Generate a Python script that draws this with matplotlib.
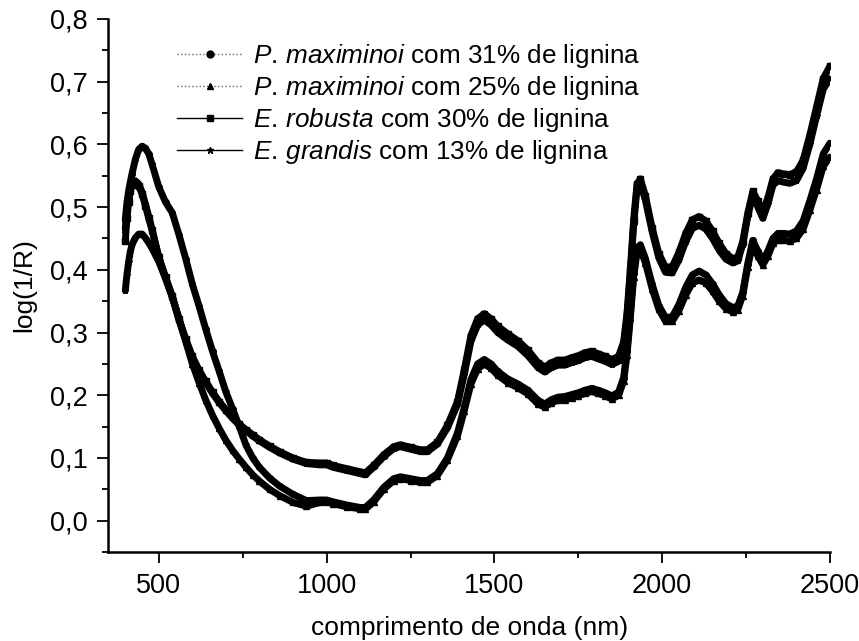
import matplotlib
matplotlib.use('Agg')
import matplotlib.pyplot as plt
from matplotlib.lines import Line2D
from matplotlib.ticker import FuncFormatter, MultipleLocator

plt.rcParams['font.family'] = ['Liberation Sans', 'DejaVu Sans']
plt.rcParams['mathtext.fontset'] = 'custom'
plt.rcParams['mathtext.rm'] = 'Liberation Sans'
plt.rcParams['mathtext.it'] = 'Liberation Sans:italic'

# comprimento de onda (nm)
comprimento = [400, 405, 410, 415, 420, 430, 440, 450, 460, 470, 480, 500, 520, 540,
               560, 580, 600, 620, 640, 660, 680, 700, 720, 740, 760, 780, 800, 830,
               860, 900, 940, 980, 1000, 1020, 1060, 1100, 1115, 1140, 1170, 1200,
               1220, 1250, 1280, 1300, 1330, 1360, 1390, 1410, 1430, 1450, 1470, 1490,
               1510, 1540, 1570, 1600, 1630, 1650, 1670, 1690, 1710, 1730, 1750, 1770,
               1790, 1810, 1830, 1850, 1870, 1885, 1895, 1905, 1915, 1925, 1935, 1950,
               1970, 1990, 2010, 2030, 2050, 2070, 2090, 2110, 2130, 2150, 2170, 2190,
               2210, 2225, 2240, 2255, 2270, 2285, 2300, 2315, 2330, 2345, 2360, 2380,
               2400, 2420, 2440, 2460, 2480, 2500]

# log(1/R)
pm31 = [0.480, 0.507, 0.526, 0.540, 0.553, 0.576, 0.592, 0.597, 0.594, 0.585, 0.568,
        0.532, 0.508, 0.491, 0.456, 0.418, 0.377, 0.342, 0.305, 0.270, 0.238, 0.205,
        0.178, 0.150, 0.120, 0.100, 0.085, 0.068, 0.055, 0.042, 0.032, 0.033, 0.033,
        0.030, 0.025, 0.021, 0.021, 0.033, 0.053, 0.067, 0.070, 0.067, 0.064, 0.064,
        0.075, 0.100, 0.140, 0.180, 0.225, 0.250, 0.257, 0.250, 0.238, 0.226, 0.218,
        0.208, 0.192, 0.186, 0.193, 0.197, 0.198, 0.201, 0.204, 0.208, 0.211, 0.208,
        0.204, 0.199, 0.205, 0.228, 0.270, 0.330, 0.395, 0.435, 0.440, 0.418, 0.377,
        0.343, 0.324, 0.325, 0.345, 0.372, 0.392, 0.398, 0.392, 0.378, 0.360, 0.346,
        0.340, 0.342, 0.364, 0.410, 0.447, 0.430, 0.415, 0.430, 0.450, 0.458, 0.458,
        0.457, 0.462, 0.478, 0.510, 0.545, 0.585, 0.602]
pm25 = [0.465, 0.497, 0.518, 0.533, 0.541, 0.542, 0.537, 0.524, 0.505, 0.485, 0.464,
        0.420, 0.388, 0.358, 0.322, 0.286, 0.250, 0.220, 0.192, 0.168, 0.147, 0.128,
        0.112, 0.098, 0.085, 0.073, 0.063, 0.050, 0.040, 0.029, 0.023, 0.029, 0.030,
        0.027, 0.022, 0.019, 0.018, 0.030, 0.050, 0.064, 0.067, 0.064, 0.061, 0.061,
        0.072, 0.097, 0.135, 0.175, 0.218, 0.242, 0.250, 0.243, 0.232, 0.220, 0.212,
        0.202, 0.186, 0.181, 0.188, 0.192, 0.193, 0.196, 0.199, 0.203, 0.206, 0.203,
        0.199, 0.194, 0.200, 0.222, 0.264, 0.323, 0.388, 0.428, 0.433, 0.411, 0.370,
        0.337, 0.318, 0.318, 0.335, 0.360, 0.379, 0.384, 0.379, 0.366, 0.350, 0.338,
        0.333, 0.336, 0.359, 0.405, 0.442, 0.422, 0.408, 0.422, 0.442, 0.448, 0.447,
        0.446, 0.450, 0.465, 0.495, 0.528, 0.565, 0.580]
er30 = [0.446, 0.482, 0.508, 0.525, 0.536, 0.539, 0.534, 0.521, 0.502, 0.482, 0.463,
        0.420, 0.388, 0.358, 0.322, 0.290, 0.262, 0.240, 0.222, 0.205, 0.190, 0.177,
        0.165, 0.154, 0.145, 0.137, 0.129, 0.119, 0.110, 0.100, 0.093, 0.092, 0.092,
        0.088, 0.083, 0.078, 0.076, 0.088, 0.105, 0.118, 0.121, 0.117, 0.113, 0.113,
        0.125, 0.152, 0.190, 0.240, 0.295, 0.322, 0.330, 0.322, 0.310, 0.298, 0.287,
        0.272, 0.252, 0.245, 0.252, 0.256, 0.256, 0.260, 0.263, 0.268, 0.270, 0.266,
        0.262, 0.257, 0.262, 0.285, 0.330, 0.400, 0.480, 0.537, 0.545, 0.518, 0.467,
        0.426, 0.404, 0.405, 0.428, 0.458, 0.480, 0.485, 0.478, 0.462, 0.442, 0.426,
        0.418, 0.420, 0.445, 0.490, 0.525, 0.510, 0.492, 0.515, 0.545, 0.555, 0.553,
        0.552, 0.556, 0.575, 0.615, 0.660, 0.705, 0.725]
eg13 = [0.367, 0.392, 0.413, 0.429, 0.440, 0.451, 0.457, 0.457, 0.451, 0.443, 0.434,
        0.413, 0.386, 0.356, 0.320, 0.288, 0.260, 0.238, 0.220, 0.203, 0.188, 0.175,
        0.163, 0.152, 0.143, 0.135, 0.127, 0.117, 0.108, 0.098, 0.091, 0.089, 0.089,
        0.085, 0.080, 0.075, 0.073, 0.085, 0.102, 0.115, 0.118, 0.114, 0.110, 0.110,
        0.122, 0.148, 0.185, 0.233, 0.286, 0.312, 0.320, 0.312, 0.300, 0.288, 0.278,
        0.263, 0.244, 0.237, 0.244, 0.248, 0.248, 0.252, 0.255, 0.260, 0.262, 0.258,
        0.254, 0.249, 0.254, 0.277, 0.322, 0.392, 0.472, 0.530, 0.538, 0.511, 0.461,
        0.419, 0.396, 0.395, 0.416, 0.445, 0.466, 0.471, 0.465, 0.450, 0.431, 0.417,
        0.411, 0.414, 0.440, 0.485, 0.520, 0.500, 0.482, 0.505, 0.535, 0.542, 0.540,
        0.538, 0.542, 0.562, 0.600, 0.645, 0.688, 0.705]

series = [pm31, pm25, er30, eg13]
rotulos = [r'$\it{P.\,maximinoi}$ com 31% de lignina',
           r'$\it{P.\,maximinoi}$ com 25% de lignina',
           r'$\it{E.\,robusta}$ com 30% de lignina',
           r'$\it{E.\,grandis}$ com 13% de lignina']
marcadores = ['o', '^', 's', '*']
estilos = [':', ':', '-', '-']
cores_leg = ['#666666', '#666666', 'black', 'black']

fig = plt.figure(figsize=(8.59, 6.41), dpi=100)
ax = fig.add_axes([0.1263, 0.1388, 0.8399, 0.8316])

for y, m in zip(series, marcadores):
    ax.plot(comprimento, y, color='black', linewidth=5.0, marker=m,
            markersize=4, solid_capstyle='round', solid_joinstyle='round')

# legenda com linhas finas como no original
handles = [Line2D([0], [0], color=c, linestyle=ls, linewidth=1.0, marker=m,
                  markersize=5, markerfacecolor='black', markeredgecolor='black')
           for c, ls, m in zip(cores_leg, estilos, marcadores)]
ax.legend(handles, rotulos, loc='upper left', bbox_to_anchor=(0.095, 0.957),
          frameon=False, fontsize=18.8, handlelength=2.5, handletextpad=0.4,
          labelspacing=0.16, borderaxespad=0, borderpad=0)

ax.set_xlim(350, 2500)
ax.set_ylim(-0.05, 0.8)
ax.xaxis.set_major_locator(MultipleLocator(500))
ax.xaxis.set_minor_locator(MultipleLocator(250))
ax.yaxis.set_major_locator(MultipleLocator(0.1))
ax.yaxis.set_minor_locator(MultipleLocator(0.05))
ax.yaxis.set_major_formatter(FuncFormatter(lambda v, p: f'{v:.1f}'.replace('.', ',')))

for s in ['top', 'right']:
    ax.spines[s].set_visible(False)
for s in ['left', 'bottom']:
    ax.spines[s].set_linewidth(1.8)
ax.tick_params(which='major', direction='out', length=8, width=1.3, labelsize=19.5, pad=7)
ax.tick_params(which='minor', direction='out', length=4, width=1.3)

ax.set_xlabel('comprimento de onda (nm)', fontsize=19, labelpad=12)
ax.set_ylabel('log(1/R)', fontsize=19, labelpad=10)

fig.savefig('out.png', dpi=100)
